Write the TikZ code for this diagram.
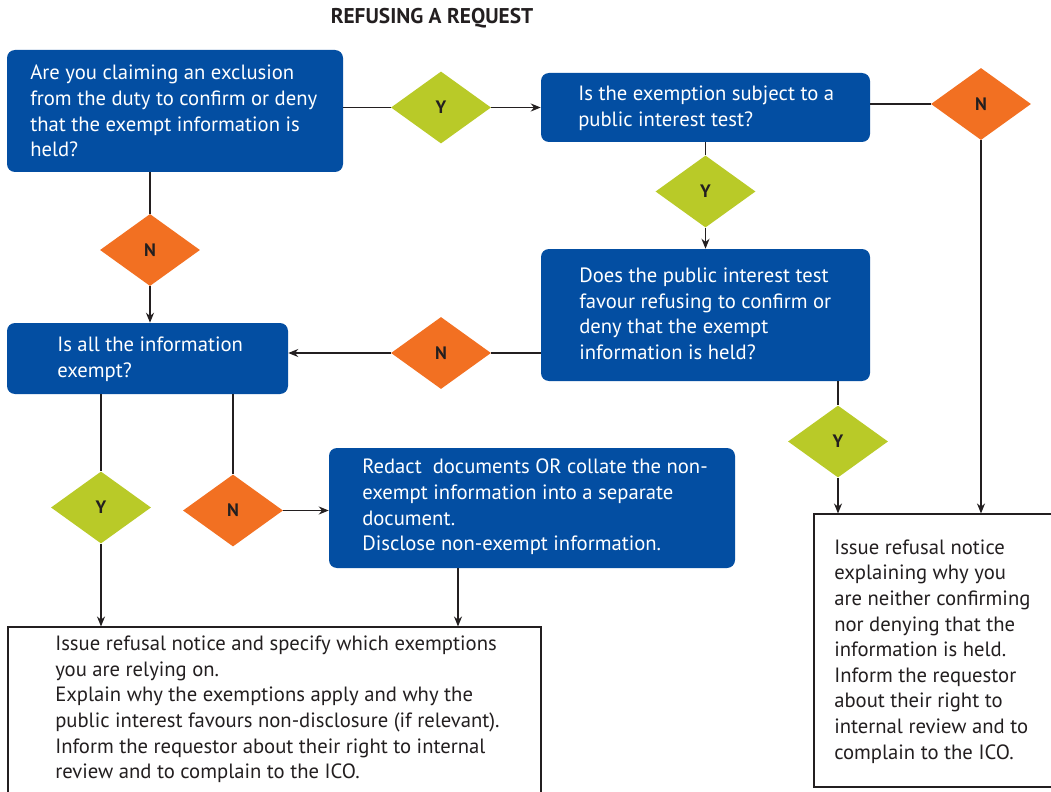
\documentclass[tikz,border=0pt]{standalone}
\usepackage{fontspec}
\setmainfont{PT Sans}
\usetikzlibrary{shapes.geometric,fit,arrows.meta}
\definecolor{icoblue}{RGB}{3,78,162}
\definecolor{ygreen}{RGB}{185,202,40}
\definecolor{orng}{RGB}{242,112,34}
\definecolor{ink}{RGB}{35,31,32}
\begin{document}
\begin{tikzpicture}[x=0.75pt,y=-0.75pt,
 bluebox/.style={fill=icoblue, rounded corners=6pt, inner sep=0pt},
 whitebox/.style={draw=ink, line width=0.8pt, fill=white, inner sep=0pt},
 basetxt/.style={anchor=west, align=left, inner sep=0pt, font=\fontsize{15.5}{19.2}\selectfont},
 wtxt/.style={basetxt, text=white},
 btxt/.style={basetxt, text=ink},
 decide/.style={diamond, minimum width=75pt, minimum height=54pt, inner sep=0pt, font=\fontsize{13.5}{13.5}\selectfont\bfseries, text=ink},
 yesd/.style={decide, fill=ygreen},
 nod/.style={decide, fill=orng},
 conn/.style={draw=ink, line width=0.8pt},
 arr/.style={conn, -{Stealth[length=7.5pt,width=6pt]}}
]
\useasboundingbox (0,0) rectangle (1051,792);
\fill[white] (0,0) rectangle (1051,792);

\node[font=\fontsize{16}{18}\selectfont\bfseries, text=ink] (title) at (432,18) {REFUSING A REQUEST};

% blue boxes
\node[bluebox, fit={(7,50) (343,172)}] (A) {};
\node[wtxt] (At) at (30,111) {Are you claiming an exclusion\\from the duty to confirm or deny\\that the exempt information is\\held?};

\node[bluebox, fit={(541,73) (870,142)}] (B) {};
\node[wtxt] (Bt) at (578,108) {Is the exemption subject to a\\public interest test?};

\node[bluebox, fit={(541,249) (870,381)}] (C) {};
\node[wtxt] (Ct) at (579,314) {Does the public interest test\\favour refusing to confirm or\\deny that the exempt\\information is held?};

\node[bluebox, fit={(7,323) (288,394)}] (D) {};
\node[wtxt] (Dt) at (57,359) {Is all the information\\exempt?};

\node[bluebox, fit={(329,448) (735,568)}] (G) {};
\node[wtxt] (Gt) at (362,507) {Redact\ \ documents OR collate the non-\\exempt information into a separate\\document.\\Disclose non-exempt information.};

% white boxes
\node[whitebox, fit={(8,627) (541,796)}] (E) {};
\node[btxt] (Et) at (55,709.5) {Issue refusal notice and specify which exemptions\\you are relying on.\\Explain why the exemptions apply and why the\\public interest favours non-disclosure (if relevant).\\Inform the requestor about their right to internal\\review and to complain to the ICO.};

\node[whitebox, fit={(814,514) (1056,787)}] (F) {};
\node[btxt] (Ft) at (834,651.5) {Issue refusal notice\\explaining why you\\are neither confirming\\nor denying that the\\information is held.\\Inform the requestor\\about their right to\\internal review and to\\complain to the ICO.};

% diamonds
\node[yesd] (Y1) at (441,107.5) {Y};
\node[nod] (N1) at (981,104) {N};
\node[yesd] (Y2) at (705.5,191.5) {Y};
\node[nod] (N2) at (441,353) {N};
\node[nod] (N3) at (150,250) {N};
\node[yesd] (Y3) at (101,507.5) {Y};
\node[nod] (N4) at (233,510.5) {N};
\node[yesd] (Y4) at (838,441.5) {Y};
\coordinate (gx) at (458,0);

% connectors
\draw[conn] (A.east |- Y1.west) -- (Y1.west);
\draw[arr] (Y1.east) -- (Y1.east -| B.west);
\draw[conn] (B.east |- N1.west) -- (N1.west);
\draw[arr] (N1.south) -- (N1.south |- F.north);
\draw[conn] (B.south) -- (Y2.north);
\draw[arr] (Y2.south) -- (C.north);
\draw[conn] (C.west |- N2.east) -- (N2.east);
\draw[arr] (N2.west) -- (N2.west -| D.east);
\draw[conn] (N3.north |- A.south) -- (N3.north);
\draw[arr] (N3.south) -- (N3.south |- D.north);
\draw[conn] (Y3.north |- D.south) -- (Y3.north);
\draw[arr] (Y3.south) -- (Y3.south |- E.north);
\draw[conn] (N4.north |- D.south) -- (N4.north);
\draw[arr] (N4.east) -- (N4.east -| G.west);
\draw[arr] (gx |- G.south) -- (gx |- E.north);
\draw[conn] (Y4.north |- C.south) -- (Y4.north);
\draw[arr] (Y4.south) -- (Y4.south |- F.north);
\end{tikzpicture}
\end{document}
